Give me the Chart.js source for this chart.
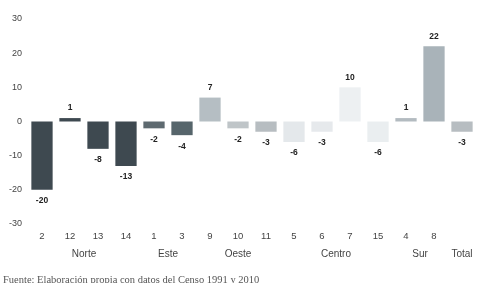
<!DOCTYPE html>
<html>
<head>
<meta charset="utf-8">
<script src="https://cdn.jsdelivr.net/npm/chart.js@4"></script>
<style>
  html, body { margin: 0; padding: 0; background: #fff; }
  #wrap { width: 489px; height: 283px; position: relative; }
</style>
</head>
<body>
<div id="wrap"><canvas id="myChart" width="489" height="283"></canvas></div>
<script>
const zonas = ["2", "12", "13", "14", "1", "3", "9", "10", "11", "5", "6", "7", "15", "4", "8", ""];
const valores = [-20, 1, -8, -13, -2, -4, 7, -2, -3, -6, -3, 10, -6, 1, 22, -3];
const colores = ["#3e4950", "#3e4950", "#3e4950", "#3e4950", "#5e6a70", "#56656b", "#b5bec3", "#bfc5c8", "#b7bdc1",
  "#e4e8eb", "#e6e9ec", "#edf0f2", "#eaeef0", "#b3bbc0", "#a9b3b9", "#b7bdc1"];
const regiones = ["Norte", "Este", "Oeste", "Centro", "Sur", "Total"];
const regionDesde = [0, 4, 6, 9, 13, 15];
const regionHasta = [3, 5, 8, 12, 14, 15];
const fuente = "Fuente: Elaboración propia con datos del Censo 1991 y 2010";

const etiquetas = {
  id: "etiquetas",
  afterDatasetsDraw(chart) {
    const { ctx } = chart;
    const meta = chart.getDatasetMeta(0);
    ctx.save();
    ctx.font = "bold 8.5px 'Liberation Sans', Arial, sans-serif";
    ctx.fillStyle = "#222";
    ctx.textAlign = "center";
    ctx.textBaseline = "middle";
    meta.data.forEach((bar, i) => {
      const v = valores[i];
      const y = v >= 0 ? bar.y - 10 : bar.y + 11;
      ctx.fillText(String(v), bar.x, y);
    });
    // grupos
    const xs = chart.scales.x;
    ctx.font = "10px 'Liberation Sans', Arial, sans-serif";
    ctx.fillStyle = "#444";
    regiones.forEach((r, i) => {
      const x = (xs.getPixelForValue(regionDesde[i]) + xs.getPixelForValue(regionHasta[i])) / 2;
      ctx.fillText(r, x, 254);
    });
    ctx.font = "10.5px 'Liberation Serif', 'Times New Roman', serif";
    ctx.fillStyle = "#555";
    ctx.textAlign = "left";
    ctx.fillText(fuente, 3, 280);
    ctx.restore();
  },
};

const ctx = document.querySelector("#myChart");

let opts = {
  type: "bar",
  data: {
    labels: zonas,
    datasets: [
      {
        data: valores,
        backgroundColor: colores,
        borderWidth: 0,
        barPercentage: 0.76,
        categoryPercentage: 1,
      },
    ],
  },
  options: {
    responsive: false,
    animation: false,
    layout: {
      padding: { top: 19, right: 13, left: 0, bottom: 0 },
    },
    scales: {
      y: {
        min: -30,
        max: 30,
        ticks: {
          stepSize: 10,
          color: "#444",
          padding: 6,
          font: { size: 9, family: "'Liberation Sans', Arial, sans-serif" },
        },
        grid: { display: false, drawTicks: false },
        border: { display: false },
        afterFit: scale => {
          scale.width = 28;
        },
      },
      x: {
        ticks: {
          color: "#444",
          padding: 7,
          font: { size: 9.5, family: "'Liberation Sans', Arial, sans-serif" },
        },
        grid: { display: false, drawTicks: false },
        border: { display: false },
        afterFit: scale => {
          scale.height = 59;
        },
      },
    },
    plugins: {
      legend: { display: false },
      tooltip: { enabled: false },
    },
  },
  plugins: [etiquetas],
};

const myChart = new Chart(ctx, opts);
</script>
</body>
</html>
